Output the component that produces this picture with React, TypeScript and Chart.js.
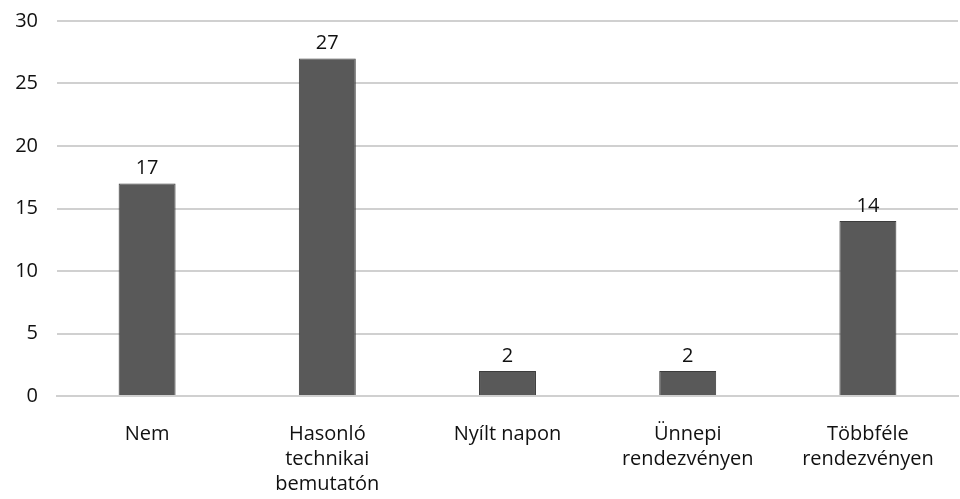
import React, { useEffect, useRef } from "react";
import { Chart, registerables } from "chart.js";

Chart.register(...registerables);

const categories: (string | string[])[] = [
  "Nem",
  ["Hasonló", "technikai", "bemutatón"],
  "Nyílt napon",
  ["Ünnepi", "rendezvényen"],
  ["Többféle", "rendezvényen"],
];
const values: number[] = [17, 27, 2, 2, 14];
const yTicks = { min: 0, max: 30, step: 5 };

const FONT = "'Open Sans', 'Noto Sans', sans-serif";

const valueLabels = {
  id: "valueLabels",
  afterDatasetsDraw(chart: any) {
    const ctx = chart.ctx;
    const meta = chart.getDatasetMeta(0);
    ctx.save();
    ctx.fillStyle = "#111111";
    ctx.font = `20px ${FONT}`;
    ctx.textAlign = "center";
    ctx.textBaseline = "bottom";
    meta.data.forEach((bar: any, i: number) => {
      ctx.fillText(String(chart.data.datasets[0].data[i]), bar.x, bar.y - 5);
    });
    ctx.restore();
  },
};

export default function App() {
  const ref = useRef<HTMLCanvasElement>(null);
  useEffect(() => {
    if (!ref.current) return;
    const chart = new Chart(ref.current, {
      type: "bar",
      data: {
        labels: categories,
        datasets: [
          {
            data: values,
            backgroundColor: "#595959",
            borderColor: "#3c3c3c",
            borderWidth: 1,
            barPercentage: 0.316,
            categoryPercentage: 1,
          },
        ],
      },
      options: {
        responsive: false,
        animation: false,
        layout: { padding: { top: 0, right: 2, left: 0, bottom: 0 } },
        plugins: { legend: { display: false }, tooltip: { enabled: false } },
        scales: {
          x: {
            grid: { display: false },
            border: { color: "#d0d0d0", width: 2 },
            ticks: {
              color: "#111111",
              font: { family: FONT, size: 20, lineHeight: 1.25 },
              padding: 18,
              maxRotation: 0,
              autoSkip: false,
            },
            afterFit: (s: any) => {
              s.height = 103;
            },
          },
          y: {
            min: yTicks.min,
            max: yTicks.max,
            border: { display: false },
            grid: { color: "#d0d0d0", lineWidth: 2, drawTicks: false },
            ticks: {
              stepSize: yTicks.step,
              color: "#111111",
              font: { family: FONT, size: 20 },
              padding: 19,
            },
            afterFit: (s: any) => {
              s.width = 57;
              s.paddingTop = 21;
            },
          },
        },
      },
      plugins: [valueLabels],
    });
    return () => chart.destroy();
  }, []);
  return (
    <div style={{ position: "fixed", left: 0, top: 0, width: 960, height: 499, background: "#fff" }}>
      <canvas ref={ref} width={960} height={499} />
    </div>
  );
}
